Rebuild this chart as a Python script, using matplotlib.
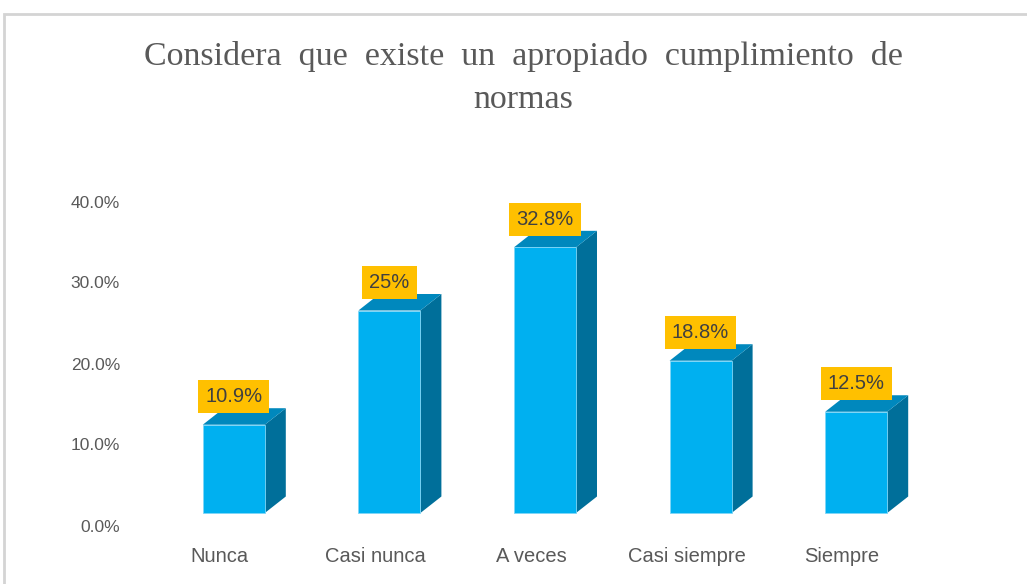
import matplotlib.pyplot as plt
from matplotlib.patches import Polygon, Rectangle

categories = ['Nunca', 'Casi nunca', 'A veces', 'Casi siempre', 'Siempre']
values = [10.9, 25.0, 32.8, 18.8, 12.5]
value_labels = ['10.9%', '25%', '32.8%', '18.8%', '12.5%']
yticks = [0, 10, 20, 30, 40]

W, H = 1027, 584
fig = plt.figure(figsize=(W / 100, H / 100), dpi=100)

# chart frame (light gray, runs off the right/bottom edge)
fig.patches.append(Rectangle((4 / W, -0.1), 1.2, (H - 14) / H + 0.1, transform=fig.transFigure,
                             fill=False, edgecolor='#d4d4d4', linewidth=2))

# axes placed so 0% sits at y=527px and 40% at y=203px
ax = fig.add_axes([142 / W, (H - 527) / H, 778 / W, (527 - 203) / H])
ax.set_xlim(-0.5, 4.5)
ax.set_ylim(0, 40)
ax.axis('off')

px_x = 1 / 155.6   # data units per pixel, x
px_y = 1 / 8.1     # data units per pixel, y
base = 14 * px_y
off = 14 * px_x
bw = 62 * px_x
dx, dy = 21 * px_x, 16.5 * px_y

front_c, side_c, top_c = '#00b0f0', '#006f9a', '#0088bd'

for i, v in enumerate(values):
    x0 = i + off - bw / 2
    x1 = x0 + bw
    y0 = base
    y1 = base + v
    ax.add_patch(Polygon([(x1, y0), (x1 + dx, y0 + dy), (x1 + dx, y1 + dy), (x1, y1)],
                         closed=True, facecolor=side_c, edgecolor='none', clip_on=False))
    ax.add_patch(Polygon([(x0, y1), (x0 + dx, y1 + dy), (x1 + dx, y1 + dy), (x1, y1)],
                         closed=True, facecolor=top_c, edgecolor='none', clip_on=False))
    ax.add_patch(Rectangle((x0, y0), bw, v, facecolor=front_c, edgecolor='#7fd6f7',
                           linewidth=0.6, clip_on=False))
    ax.text(i + off, y1 + 28 * px_y, value_labels[i], ha='center', va='center',
            fontsize=14.5, color='#404040', family='Liberation Sans', clip_on=False,
            bbox=dict(boxstyle='square,pad=0.35', facecolor='#ffc000', edgecolor='none'))
    ax.text(i, -30 * px_y, categories[i], ha='center', va='center', fontsize=14.5,
            color='#595959', family='Liberation Sans', clip_on=False)

for t in yticks:
    ax.text(-0.5 - 22 * px_x, t, f'{t:.1f}%', ha='right', va='center', fontsize=12.5,
            color='#595959', family='Liberation Sans', clip_on=False)

fig.text(523 / W, (H - 57) / H, 'Considera  que  existe  un  apropiado  cumplimiento  de',
         ha='center', va='center', fontsize=24.5, color='#595959', family='Liberation Serif')
fig.text(523 / W, (H - 100) / H, 'normas', ha='center', va='center', fontsize=24.5,
         color='#595959', family='Liberation Serif')

fig.savefig('out.png', dpi=100)
